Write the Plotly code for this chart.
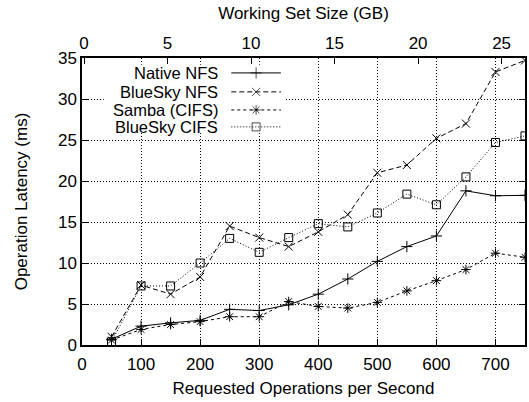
import plotly.graph_objects as go

ops = [50, 100, 150, 200, 250, 300, 350, 400, 450, 500, 550, 600, 650, 700, 750]
native_nfs = [0.7, 2.3, 2.7, 3.0, 4.35, 4.2, 4.9, 6.2, 8.05, 10.2, 12.0, 13.3, 18.8, 18.2, 18.25]
bluesky_nfs = [1.0, 7.3, 6.2, 8.3, 14.5, 13.1, 12.0, 13.8, 15.9, 21.0, 21.95, 25.2, 27.0, 33.3, 34.7]
samba_cifs = [0.6, 1.9, 2.5, 2.85, 3.45, 3.45, 5.3, 4.7, 4.5, 5.2, 6.6, 7.85, 9.2, 11.2, 10.7]
bluesky_cifs = [0.4, 7.2, 7.2, 10.0, 13.0, 11.3, 13.1, 14.8, 14.4, 16.1, 18.4, 17.1, 20.5, 24.7, 25.5]

series_names = ["Native NFS", "BlueSky NFS", "Samba (CIFS)", "BlueSky CIFS"]
series_vals = [native_nfs, bluesky_nfs, samba_cifs, bluesky_cifs]
dashes = ["solid", "5px,3px", "3px,3px", "1px,2px"]
symbols = ["cross-thin-open", "x-thin-open", "asterisk-open", "square-open"]
msizes = [8, 8, 8, 8]

x_range = [0, 750]
y_range = [0, 35]
gb_range = [-0.12, 26.4]

FONT = "Liberation Sans, Arial, sans-serif"
FS = 17
fig = go.Figure()

for name, vals, d, s, ms in zip(series_names, series_vals, dashes, symbols, msizes):
    fig.add_trace(go.Scatter(
        x=ops, y=vals, mode="lines+markers", name=name,
        line=dict(color="black", width=1, dash=d),
        marker=dict(symbol=s, size=ms, color="black", line=dict(color="black", width=1)),
        showlegend=False))

# key background (white box hiding grid), drawn on an overlay axis in domain units
box_x = [0.05, 0.456, 0.456, 0.05, 0.05]
box_y = [0.742, 0.742, 0.976, 0.976, 0.742]
fig.add_trace(go.Scatter(x=box_x, y=box_y, xaxis="x3", yaxis="y3", mode="lines", fill="toself",
                         fillcolor="white", line=dict(width=0.5, color="white"),
                         showlegend=False, hoverinfo="skip"))

# custom gnuplot-style key (text on left, sample on right)
key_rows = [0.948, 0.882, 0.819, 0.760]
key_x = [0.337, 0.393, 0.449]
for name, d, s, ms, r in zip(series_names, dashes, symbols, msizes, key_rows):
    fig.add_trace(go.Scatter(
        x=key_x, y=[r, r, r], xaxis="x3", yaxis="y3", mode="lines+markers",
        line=dict(color="black", width=1, dash=d),
        marker=dict(symbol=s, size=[0, ms, 0], color="black", line=dict(color="black", width=1)),
        showlegend=False, hoverinfo="skip"))
    fig.add_annotation(x=0.310, y=r, xref="x domain", yref="y domain", text=name,
                       showarrow=False, xanchor="right", yanchor="middle",
                       font=dict(family=FONT, size=16.5, color="black"), borderpad=0)

axis_common = dict(showline=True, linecolor="black", linewidth=1.5, ticks="inside", ticklen=6,
                   tickcolor="black", tickfont=dict(family=FONT, size=FS, color="black"),
                   zeroline=False)

fig.update_layout(
    width=529, height=402,
    margin=dict(l=82, r=2, t=58, b=57),
    plot_bgcolor="white", paper_bgcolor="white",
    xaxis=dict(range=x_range, dtick=100, showgrid=True, gridcolor="black", griddash="1px,2px", gridwidth=1,
               ticklabelstandoff=3,
               title=dict(text="Requested Operations per Second", font=dict(family=FONT, size=FS, color="black"), standoff=9),
               **axis_common),
    yaxis=dict(range=y_range, dtick=5, showgrid=True, gridcolor="black", griddash="1px,2px", gridwidth=1,
               mirror="ticks",
               title=dict(text="Operation Latency (ms)", font=dict(family=FONT, size=FS, color="black"), standoff=26),
               **axis_common),
    xaxis2=dict(range=gb_range, dtick=5, overlaying="x", side="top", showgrid=False,
                ticklabelstandoff=0,
                title=dict(text="Working Set Size (GB)", font=dict(family=FONT, size=FS, color="black"), standoff=11),
                **axis_common),
    xaxis3=dict(range=[0, 1], overlaying="x", visible=False, fixedrange=True),
    yaxis3=dict(range=[0, 1], overlaying="y", visible=False, fixedrange=True),
)

# dummy trace to activate top axis
fig.add_trace(go.Scatter(x=gb_range, y=[None, None], xaxis="x2", yaxis="y", showlegend=False, hoverinfo="skip"))

fig.write_html("out.html")
